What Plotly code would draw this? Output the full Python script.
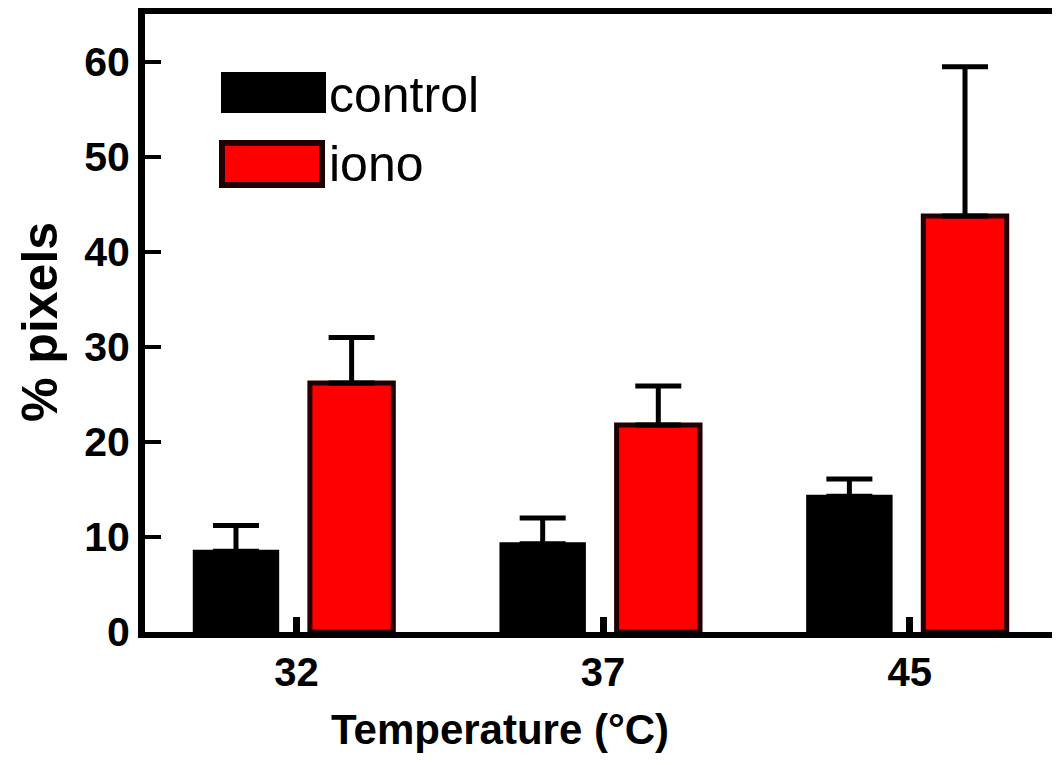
import plotly.graph_objects as go

categories = ["32", "37", "45"]
control_vals = [8.5, 9.3, 14.3]
control_err = [2.7, 2.7, 1.8]
iono_vals = [26.2, 21.8, 43.8]
iono_err = [4.8, 4.1, 15.7]
y_ticks = [0, 10, 20, 30, 40, 50, 60]
series_names = ["control", "iono"]

FONT = "Arial, Liberation Sans, sans-serif"
xpos = list(range(len(categories)))

# page body has an 8px margin: compensate so the plot area lands where the reference has it
OFF = 8
LEFT_PX = 145
W, H = 1060 - OFF, 765 - OFF
L, T, B = LEFT_PX - OFF, 14 - OFF, 133
PW, PH = 1060 - LEFT_PX, 618
UNIT = 306.7
X0 = 296.4

def px(x):
    return (x - LEFT_PX) / PW

def py(y):
    return (632 - y) / PH

fig = go.Figure()
fig.add_trace(go.Bar(
    x=xpos, y=control_vals, name=series_names[0],
    offset=-0.333, width=0.272,
    marker=dict(color="black", line=dict(color="black", width=3)),
    error_y=dict(type="data", array=control_err, symmetric=False, arrayminus=[0]*3,
                 color="black", thickness=5, width=23),
    showlegend=False,
))
fig.add_trace(go.Bar(
    x=xpos, y=iono_vals, name=series_names[1],
    offset=0.044, width=0.272,
    marker=dict(color="#ff0000", line=dict(color="#200000", width=5)),
    error_y=dict(type="data", array=iono_err, symmetric=False, arrayminus=[0]*3,
                 color="black", thickness=5, width=23),
    showlegend=False,
))

# manual legend
fig.add_shape(type="rect", xref="paper", yref="paper",
              x0=px(222), x1=px(325), y0=py(112), y1=py(73),
              fillcolor="black", line=dict(color="black", width=2))
fig.add_shape(type="rect", xref="paper", yref="paper",
              x0=px(222), x1=px(322), y0=py(185), y1=py(143),
              fillcolor="#ff0000", line=dict(color="#200000", width=6))
fig.add_annotation(xref="paper", yref="paper", x=px(327), y=py(95),
                   text=series_names[0], showarrow=False, xanchor="left", yanchor="middle",
                   font=dict(family=FONT, size=50, color="black"))
fig.add_annotation(xref="paper", yref="paper", x=px(327), y=py(164),
                   text=series_names[1], showarrow=False, xanchor="left", yanchor="middle",
                   font=dict(family=FONT, size=50, color="black"))

# axis titles
fig.add_annotation(xref="paper", yref="paper", x=px(500), y=py(729),
                   text="<b>Temperature (°C)</b>", showarrow=False, xanchor="center", yanchor="middle",
                   font=dict(family=FONT, size=42, color="black"))
fig.add_annotation(xref="paper", yref="paper", x=px(40), y=py(322),
                   text="<b>% pixels</b>", showarrow=False, textangle=-90,
                   xanchor="center", yanchor="middle",
                   font=dict(family=FONT, size=50, color="black"))

fig.update_layout(
    width=W, height=H,
    margin=dict(l=L, r=0, t=T, b=B, pad=0),
    plot_bgcolor="white", paper_bgcolor="white",
    barmode="group",
    font=dict(family=FONT, color="black"),
)
fig.update_xaxes(
    range=[-(X0 - LEFT_PX) / UNIT, (1060 - X0) / UNIT], tickmode="array", tickvals=xpos,
    ticktext=["<b>%s</b>" % c for c in categories],
    tickfont=dict(family=FONT, size=40, color="black"),
    showline=True, linecolor="black", linewidth=6, mirror=True,
    ticks="inside", ticklen=15, tickwidth=7, tickcolor="black",
    showgrid=False, zeroline=False,
)
fig.update_yaxes(
    range=[0, 65.05], tickmode="array", tickvals=y_ticks,
    ticktext=["<b>%d</b>" % v for v in y_ticks],
    tickfont=dict(family=FONT, size=41, color="black"),
    showline=True, linecolor="black", linewidth=7,
    ticks="inside", ticklen=16, tickwidth=4, tickcolor="black",
    showgrid=False, zeroline=False,
)

fig.write_html("out.html")
